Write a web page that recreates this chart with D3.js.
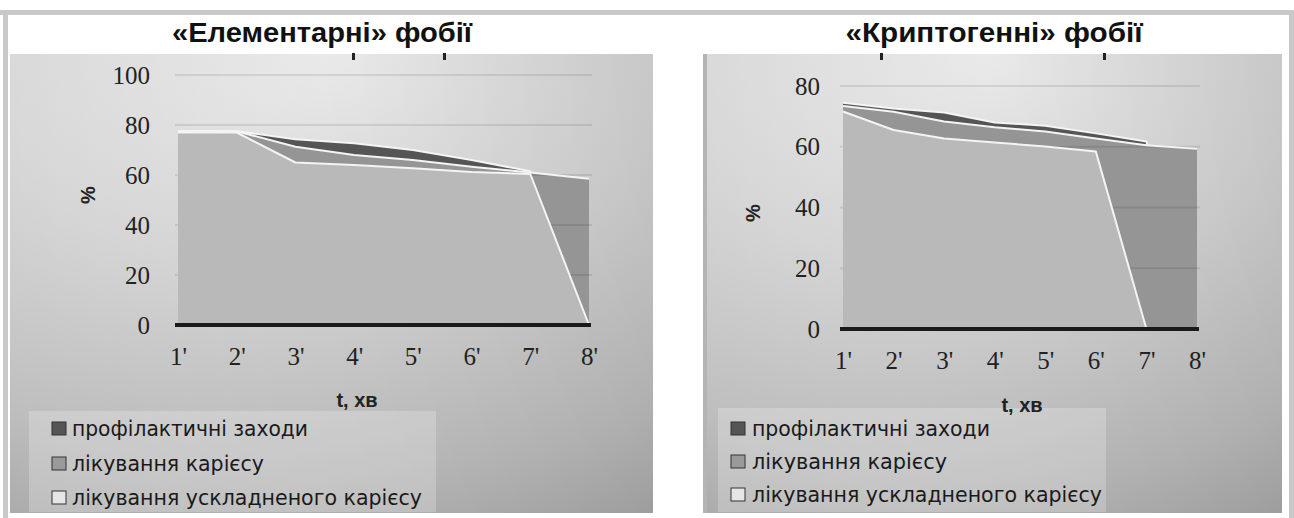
<!DOCTYPE html>
<html>
<head>
<meta charset="utf-8">
<script src="https://cdn.jsdelivr.net/npm/d3@7"></script>
<style>
  body { margin: 0; background: #fff; }
  svg { display: block; }
</style>
</head>
<body>
<div id="vis"></div>
<script>
const categories = ["1'", "2'", "3'", "4'", "5'", "6'", "7'", "8'"];
const seriesNames = ["профілактичні заходи", "лікування карієсу", "лікування ускладненого карієсу"];

// «Елементарні» фобії
const elemProphylaxis = [77.5, 77.5, 74.3, 72.7, 70, 66, 61.5, 0];
const elemCaries = [77.5, 77.5, 71.3, 68, 66, 63.3, 61, 58.5];
const elemComplicated = [77, 77, 65, 64, 62.7, 61.2, 60.4, 0];
const elemTicks = [0, 20, 40, 60, 80, 100];

// «Криптогенні» фобії
const cryptoProphylaxis = [74.5, 72.6, 71.3, 68, 66.9, 64.4, 61.7, 0];
const cryptoCaries = [73.4, 71.5, 68.3, 66.4, 65, 62.7, 60.5, 59.3];
const cryptoComplicated = [71.6, 65.5, 62.7, 61.4, 60.1, 58.4, 0, 0];
const cryptoTicks = [0, 20, 40, 60, 80];

const W = 1294, H = 518;
const fills = ["#555555", "#959595", "#b9b9b9"];
const swatch = ["#555555", "#9a9a9a", "#e6e6e6"];

const svg = d3.select("#vis").append("svg").attr("width", W).attr("height", H);
const defs = svg.append("defs");

// outer frame
svg.append("rect").attr("x", 0).attr("y", 10).attr("width", W).attr("height", 5).attr("fill", "#c8c8c8");
svg.append("rect").attr("x", 3).attr("y", 10).attr("width", 5).attr("height", H).attr("fill", "#c8c8c8");
svg.append("rect").attr("x", 1289).attr("y", 10).attr("width", 5).attr("height", H).attr("fill", "#c8c8c8");

const panels = [
  {
    id: "elem", title: "«Елементарні» фобії", titleX: 322, titleW: 300,
    box: { x: 10, y: 54, w: 643, h: 459 },
    xr: [178, 589], yr: [325, 75], yMax: 100, ticks: elemTicks, tickX: 150,
    values: [elemProphylaxis, elemCaries, elemComplicated],
    pct: [88, 195], tLabel: [357, 407],
    legend: { x: 29, y: 411, w: 407, h: 101, sx: 52, tx: 72, rows: [428, 463, 497], tw: [236, 192, 350] },
    marks: [352, 443]
  },
  {
    id: "crypto", title: "«Криптогенні» фобії", titleX: 994, titleW: 297,
    box: { x: 703, y: 54, w: 579, h: 459 },
    xr: [843, 1197], yr: [329, 86], yMax: 80, ticks: cryptoTicks, tickX: 820,
    values: [cryptoProphylaxis, cryptoCaries, cryptoComplicated],
    pct: [753, 213], tLabel: [1022, 412],
    legend: { x: 718, y: 408, w: 388, h: 104, sx: 731, tx: 752, rows: [428, 461, 494], tw: [238, 195, 350] },
    marks: [880, 1103]
  }
];

panels.forEach(p => {
  // background gradient
  const g = defs.append("radialGradient").attr("id", "bg-" + p.id)
    .attr("cx", 0.5).attr("cy", 0).attr("r", 1.15).attr("fx", 0.5).attr("fy", 0);
  g.append("stop").attr("offset", 0).attr("stop-color", "#f3f3f3");
  g.append("stop").attr("offset", 0.45).attr("stop-color", "#d8d8d8");
  g.append("stop").attr("offset", 0.8).attr("stop-color", "#bebebe");
  g.append("stop").attr("offset", 1).attr("stop-color", "#a8a8a8");
  const sh = defs.append("linearGradient").attr("id", "sh-" + p.id);
  sh.append("stop").attr("offset", 0).attr("stop-color", "#000").attr("stop-opacity", 0);
  sh.append("stop").attr("offset", 1).attr("stop-color", "#000").attr("stop-opacity", 0.08);

  svg.append("rect").attr("x", p.box.x).attr("y", p.box.y).attr("width", p.box.w).attr("height", p.box.h)
    .attr("fill", "url(#bg-" + p.id + ")");
  svg.append("rect").attr("x", p.box.x).attr("y", p.box.y).attr("width", p.box.w).attr("height", p.box.h)
    .attr("fill", "url(#sh-" + p.id + ")");
  if (p.id === "crypto") {
    svg.append("rect").attr("x", p.box.x).attr("y", p.box.y).attr("width", 4).attr("height", p.box.h).attr("fill", "#b4b4b4");
  }

  // leftover marks under the title
  p.marks.forEach(mx => {
    svg.append("rect").attr("x", mx).attr("y", 53).attr("width", 3).attr("height", 7).attr("fill", "#222");
  });

  svg.append("text").attr("x", p.titleX).attr("y", 42).attr("text-anchor", "middle")
    .attr("font-family", "Liberation Sans, Arial, sans-serif").attr("font-weight", "bold")
    .attr("font-size", 27).attr("textLength", p.titleW).attr("lengthAdjust", "spacingAndGlyphs")
    .attr("fill", "#111").text(p.title);

  const x = d3.scalePoint().domain(categories).range(p.xr);
  const y = d3.scaleLinear().domain([0, p.yMax]).range(p.yr);

  const area = d3.area().x((d, i) => x(categories[i])).y0(y(0)).y1(d => y(d));
  const line = d3.line().x((d, i) => x(categories[i])).y(d => y(d));

  const plot = svg.append("g");

  // back to front, each with its light top edge
  p.values.forEach((vals, k) => {
    plot.append("path").datum(vals).attr("d", area).attr("fill", fills[k]);
    if (k === 1) {
      plot.selectAll(".grid").data(p.ticks.filter(t => t > 0)).enter().append("line")
        .attr("x1", p.xr[0] - 3).attr("x2", p.xr[1] + 3)
        .attr("y1", d => y(d)).attr("y2", d => y(d))
        .attr("stroke", "#000").attr("stroke-opacity", 0.09).attr("stroke-width", 2);
    }
    plot.append("path").datum(vals).attr("d", line).attr("fill", "none")
      .attr("stroke", "#f4f4f4").attr("stroke-width", 2).attr("stroke-linejoin", "round");
  });

  // baseline
  plot.append("line").attr("x1", p.xr[0] - 3).attr("x2", p.xr[1] + 2)
    .attr("y1", y(0)).attr("y2", y(0)).attr("stroke", "#1a1a1a").attr("stroke-width", 4);

  // y axis labels
  const ya = svg.append("g").attr("transform", "translate(" + p.tickX + ",0)")
    .call(d3.axisLeft(y).tickValues(p.ticks).tickSize(0).tickPadding(0));
  ya.select(".domain").remove();
  ya.selectAll("text").attr("font-family", "Liberation Serif, DejaVu Serif, serif")
    .attr("font-size", 25).attr("fill", "#222");

  // x axis labels
  const xa = svg.append("g").attr("transform", "translate(0," + (y(0) + 22) + ")")
    .call(d3.axisBottom(x).tickSize(0).tickPadding(0));
  xa.select(".domain").remove();
  xa.selectAll("text").attr("font-family", "Liberation Serif, DejaVu Serif, serif")
    .attr("font-size", 25).attr("fill", "#222");

  svg.append("text").attr("transform", "translate(" + p.pct[0] + "," + p.pct[1] + ") rotate(-90)")
    .attr("text-anchor", "middle").attr("dy", "0.35em")
    .attr("font-family", "Liberation Sans, Arial, sans-serif").attr("font-weight", "bold")
    .attr("font-size", 20).attr("fill", "#222").text("%");

  // legend
  const L = p.legend;
  svg.append("rect").attr("x", L.x).attr("y", L.y).attr("width", L.w).attr("height", L.h)
    .attr("fill", "#fff").attr("fill-opacity", 0.22);

  svg.append("text").attr("x", p.tLabel[0]).attr("y", p.tLabel[1]).attr("text-anchor", "middle")
    .attr("font-family", "Liberation Sans, Arial, sans-serif").attr("font-weight", "bold")
    .attr("font-size", 20).attr("fill", "#222").text("t, хв");

  seriesNames.forEach((name, k) => {
    svg.append("rect").attr("x", L.sx).attr("y", L.rows[k] - 6).attr("width", 14).attr("height", 13)
      .attr("fill", swatch[k]).attr("stroke", "#333").attr("stroke-width", 1);
    svg.append("text").attr("x", L.tx).attr("y", L.rows[k]).attr("dy", "0.36em")
      .attr("font-family", "Liberation Sans Narrow, DejaVu Sans Condensed, Arial, sans-serif")
      .attr("font-size", 22).attr("fill", "#1a1a1a")
      .attr("textLength", L.tw[k]).attr("lengthAdjust", "spacingAndGlyphs").text(name);
  });
});
</script>
</body>
</html>
